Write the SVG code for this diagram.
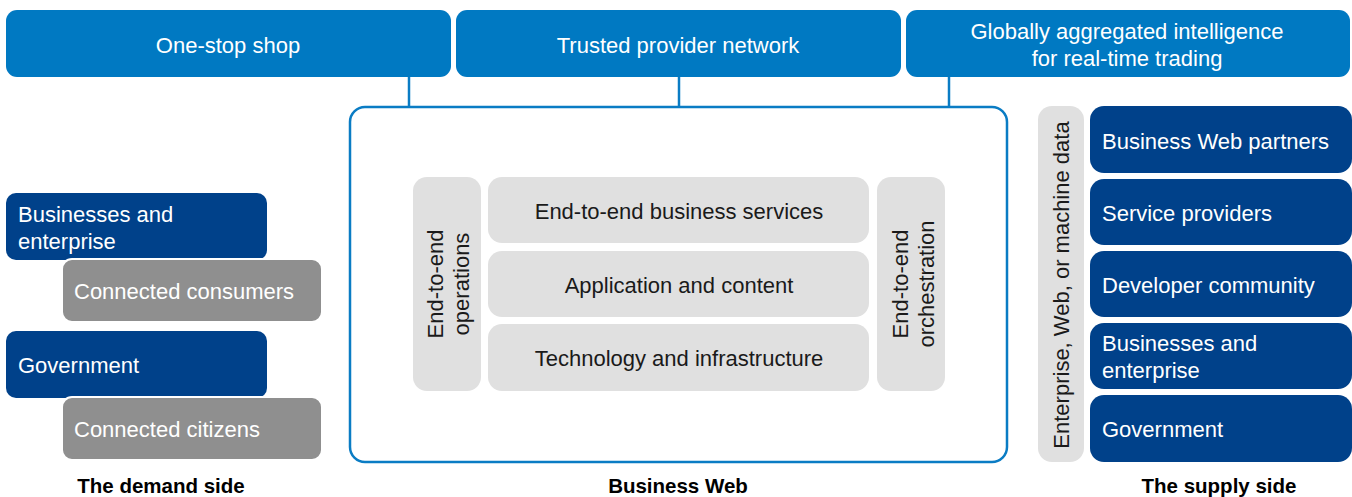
<svg xmlns="http://www.w3.org/2000/svg" width="1352" height="497" viewBox="0 0 1352 497">
<style>
text{font-family:"Liberation Sans",Arial,sans-serif;font-size:22px}
.top{fill:#0079c2}
.dk{fill:#00418a}
.gr{fill:#8f8f8f;stroke:#ffffff;stroke-width:2}
.lg{fill:#e0e0e0}
.w{fill:#ffffff}
.b{fill:#1a1a1a}
.c{text-anchor:middle}
.lbl{font-weight:bold;font-size:20.5px;fill:#000000;text-anchor:middle}
.conn{stroke:#0a7cc4;stroke-width:2.5;fill:none}
</style>
<g id="connectors">
<line class="conn" x1="409" y1="77" x2="409" y2="107"/>
<line class="conn" x1="679" y1="77" x2="679" y2="107"/>
<line class="conn" x1="949" y1="77" x2="949" y2="107"/>
</g>
<g id="top-one-stop">
<rect class="top" x="6" y="10" width="445" height="67" rx="11"/>
<text class="w c" x="228" y="53">One-stop shop</text>
</g>
<g id="top-trusted">
<rect class="top" x="456" y="10" width="445" height="67" rx="11"/>
<text class="w c" x="678" y="53">Trusted provider network</text>
</g>
<g id="top-global">
<rect class="top" x="906" y="10" width="444" height="67" rx="11"/>
<text class="w c" x="1127" y="39">Globally aggregated intelligence</text>
<text class="w c" x="1127" y="66">for real-time trading</text>
</g>
<g id="business-web">
<rect x="350" y="107" width="657" height="355" rx="15" fill="#ffffff" stroke="#0a7cc4" stroke-width="2.5"/>
</g>
<g id="e2e-operations">
<rect class="lg" x="413" y="177" width="68" height="214" rx="14"/>
<text class="b c" transform="translate(447,284) rotate(-90)"><tspan x="0" y="-4">End-to-end</tspan><tspan x="0" y="22">operations</tspan></text>
</g>
<g id="e2e-business-services">
<rect class="lg" x="488" y="177" width="381" height="66" rx="14"/>
<text class="b c" x="679" y="219">End-to-end business services</text>
</g>
<g id="application-content">
<rect class="lg" x="488" y="251" width="381" height="66" rx="14"/>
<text class="b c" x="679" y="293">Application and content</text>
</g>
<g id="technology-infrastructure">
<rect class="lg" x="488" y="324" width="381" height="67" rx="14"/>
<text class="b c" x="679" y="366">Technology and infrastructure</text>
</g>
<g id="e2e-orchestration">
<rect class="lg" x="877" y="177" width="68" height="214" rx="14"/>
<text class="b c" transform="translate(911,284) rotate(-90)"><tspan x="0" y="-3">End-to-end</tspan><tspan x="0" y="23">orchestration</tspan></text>
</g>
<g id="demand-businesses">
<rect class="dk" x="6" y="193" width="261" height="67" rx="10"/>
<text class="w" x="18" y="222">Businesses and</text>
<text class="w" x="18" y="249">enterprise</text>
</g>
<g id="demand-consumers">
<rect class="gr" x="62" y="259" width="260" height="63" rx="10"/>
<text class="w" x="74" y="299">Connected consumers</text>
</g>
<g id="demand-government">
<rect class="dk" x="6" y="331" width="261" height="67" rx="10"/>
<text class="w" x="18" y="373">Government</text>
</g>
<g id="demand-citizens">
<rect class="gr" x="62" y="397" width="260" height="63" rx="10"/>
<text class="w" x="74" y="437">Connected citizens</text>
</g>
<g id="supply-data">
<rect class="lg" x="1038" y="106" width="46" height="356" rx="14"/>
<text class="b c" transform="translate(1069,285) rotate(-90)" x="0" y="0">Enterprise, Web, or machine data</text>
</g>
<g id="supply-partners">
<rect class="dk" x="1090" y="106" width="262" height="67" rx="14"/>
<text class="w" x="1102" y="149">Business Web partners</text>
</g>
<g id="supply-service">
<rect class="dk" x="1090" y="179" width="262" height="66" rx="14"/>
<text class="w" x="1102" y="221">Service providers</text>
</g>
<g id="supply-developer">
<rect class="dk" x="1090" y="251" width="262" height="66" rx="14"/>
<text class="w" x="1102" y="293">Developer community</text>
</g>
<g id="supply-businesses">
<rect class="dk" x="1090" y="323" width="262" height="66" rx="14"/>
<text class="w" x="1102" y="351">Businesses and</text>
<text class="w" x="1102" y="378">enterprise</text>
</g>
<g id="supply-government">
<rect class="dk" x="1090" y="395" width="262" height="67" rx="14"/>
<text class="w" x="1102" y="437">Government</text>
</g>
<g id="labels">
<text class="lbl" x="161" y="493">The demand side</text>
<text class="lbl" x="678" y="493">Business Web</text>
<text class="lbl" x="1219" y="493">The supply side</text>
</g>
</svg>
